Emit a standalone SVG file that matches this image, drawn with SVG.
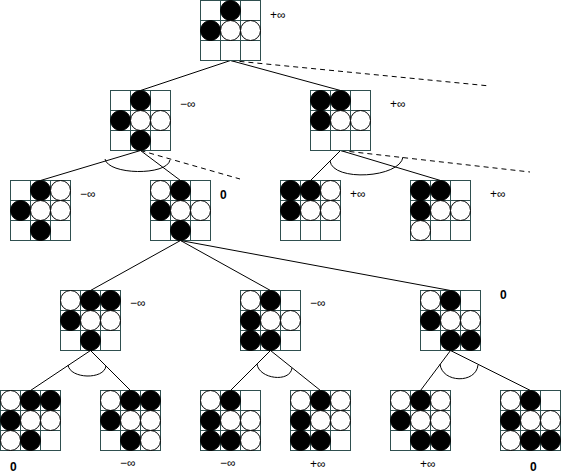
<svg xmlns="http://www.w3.org/2000/svg" xmlns:xlink="http://www.w3.org/1999/xlink" width="561" height="475" viewBox="0 0 561 475">
<style>
.gl{stroke:#2F4F4F;stroke-width:1;fill:none}
.b{fill:#000;stroke:#000;stroke-width:1}
.w{fill:#fff;stroke:#000;stroke-width:1}
.e{stroke:#000;stroke-width:1;fill:none}
.d{stroke:#000;stroke-width:1;fill:none;stroke-dasharray:5,4}
.t{font-family:"Liberation Sans",Arial,sans-serif;font-size:12px;fill:#000}
.z{font-family:"Liberation Sans",Arial,sans-serif;font-size:12px;font-weight:bold;fill:#000}
</style>
<defs>
<g id="grid">
<rect x="0.5" y="0.5" width="60" height="60" fill="#fff" stroke="#2F4F4F"/>
<path class="gl" d="M20.5,0.5V60.5M40.5,0.5V60.5M0.5,20.5H60.5M0.5,40.5H60.5"/>
</g>
</defs>
<rect width="561" height="475" fill="#fff"/>
<g id="connectors">
<line class="e" x1="230.5" y1="60.5" x2="140.5" y2="90.5"/>
<line class="e" x1="230.5" y1="60.5" x2="340.5" y2="90.5"/>
<line class="d" x1="230.5" y1="60.5" x2="490" y2="86"/>
<line class="e" x1="140.5" y1="150.5" x2="40.5" y2="180.5"/>
<line class="e" x1="140.5" y1="150.5" x2="180.5" y2="180.5"/>
<line class="d" x1="140.5" y1="150.5" x2="240" y2="179"/>
<path class="e" d="M105,159 C108,175 167,176 170,160"/>
<line class="e" x1="340.5" y1="150.5" x2="310.5" y2="180.5"/>
<line class="e" x1="340.5" y1="150.5" x2="440.5" y2="180.5"/>
<line class="d" x1="340.5" y1="150.5" x2="530" y2="172"/>
<path class="e" d="M330,161 C333,182 400,178 403,157"/>
<line class="e" x1="180.5" y1="240.5" x2="90.5" y2="290.5"/>
<line class="e" x1="180.5" y1="240.5" x2="270.5" y2="290.5"/>
<line class="e" x1="180.5" y1="240.5" x2="450.5" y2="290.5"/>
<line class="e" x1="90.5" y1="350.5" x2="30.5" y2="390.5"/>
<line class="e" x1="90.5" y1="350.5" x2="130.5" y2="390.5"/>
<path class="e" d="M68,365 C70,379 104,380 106,366"/>
<line class="e" x1="270.5" y1="350.5" x2="230.5" y2="390.5"/>
<line class="e" x1="270.5" y1="350.5" x2="320.5" y2="390.5"/>
<path class="e" d="M257,364 C259,379 290,383 292,368"/>
<line class="e" x1="450.5" y1="350.5" x2="420.5" y2="390.5"/>
<line class="e" x1="450.5" y1="350.5" x2="530.5" y2="390.5"/>
<path class="e" d="M440,364 C442,383 476,384 478,365"/>
</g>
<g id="n0">
<g transform="translate(200,0)"><use xlink:href="#grid"/>
<circle class="b" cx="30.5" cy="10.5" r="10"/>
<circle class="b" cx="10.5" cy="30.5" r="10"/><circle class="w" cx="30.5" cy="30.5" r="10"/><circle class="w" cx="50.5" cy="30.5" r="10"/>
</g><text class="t" x="270" y="19">+∞</text></g>
<g id="n1">
<g transform="translate(110,90)"><use xlink:href="#grid"/>
<circle class="b" cx="30.5" cy="10.5" r="10"/>
<circle class="b" cx="10.5" cy="30.5" r="10"/><circle class="w" cx="30.5" cy="30.5" r="10"/><circle class="w" cx="50.5" cy="30.5" r="10"/>
<circle class="b" cx="30.5" cy="50.5" r="10"/>
</g><text class="t" x="180" y="108">−∞</text></g>
<g id="n2">
<g transform="translate(310,90)"><use xlink:href="#grid"/>
<circle class="b" cx="10.5" cy="10.5" r="10"/><circle class="b" cx="30.5" cy="10.5" r="10"/>
<circle class="b" cx="10.5" cy="30.5" r="10"/><circle class="w" cx="30.5" cy="30.5" r="10"/><circle class="w" cx="50.5" cy="30.5" r="10"/>
</g><text class="t" x="390" y="108">+∞</text></g>
<g id="n3">
<g transform="translate(10,180)"><use xlink:href="#grid"/>
<circle class="b" cx="30.5" cy="10.5" r="10"/><circle class="w" cx="50.5" cy="10.5" r="10"/>
<circle class="b" cx="10.5" cy="30.5" r="10"/><circle class="w" cx="30.5" cy="30.5" r="10"/><circle class="w" cx="50.5" cy="30.5" r="10"/>
<circle class="b" cx="30.5" cy="50.5" r="10"/>
</g><text class="t" x="80" y="198">−∞</text></g>
<g id="n4">
<g transform="translate(150,180)"><use xlink:href="#grid"/>
<circle class="w" cx="10.5" cy="10.5" r="10"/><circle class="b" cx="30.5" cy="10.5" r="10"/>
<circle class="b" cx="10.5" cy="30.5" r="10"/><circle class="w" cx="30.5" cy="30.5" r="10"/><circle class="w" cx="50.5" cy="30.5" r="10"/>
<circle class="b" cx="30.5" cy="50.5" r="10"/>
</g><text class="z" x="220" y="199">0</text></g>
<g id="n5">
<g transform="translate(280,180)"><use xlink:href="#grid"/>
<circle class="b" cx="10.5" cy="10.5" r="10"/><circle class="b" cx="30.5" cy="10.5" r="10"/><circle class="w" cx="50.5" cy="10.5" r="10"/>
<circle class="b" cx="10.5" cy="30.5" r="10"/><circle class="w" cx="30.5" cy="30.5" r="10"/><circle class="w" cx="50.5" cy="30.5" r="10"/>
</g><text class="t" x="350" y="198">+∞</text></g>
<g id="n6">
<g transform="translate(410,180)"><use xlink:href="#grid"/>
<circle class="b" cx="10.5" cy="10.5" r="10"/><circle class="b" cx="30.5" cy="10.5" r="10"/>
<circle class="b" cx="10.5" cy="30.5" r="10"/><circle class="w" cx="30.5" cy="30.5" r="10"/><circle class="w" cx="50.5" cy="30.5" r="10"/>
<circle class="w" cx="10.5" cy="50.5" r="10"/>
</g><text class="t" x="490" y="198">+∞</text></g>
<g id="n7">
<g transform="translate(60,290)"><use xlink:href="#grid"/>
<circle class="w" cx="10.5" cy="10.5" r="10"/><circle class="b" cx="30.5" cy="10.5" r="10"/><circle class="b" cx="50.5" cy="10.5" r="10"/>
<circle class="b" cx="10.5" cy="30.5" r="10"/><circle class="w" cx="30.5" cy="30.5" r="10"/><circle class="w" cx="50.5" cy="30.5" r="10"/>
<circle class="b" cx="30.5" cy="50.5" r="10"/>
</g><text class="t" x="130" y="307">−∞</text></g>
<g id="n8">
<g transform="translate(240,290)"><use xlink:href="#grid"/>
<circle class="w" cx="10.5" cy="10.5" r="10"/><circle class="b" cx="30.5" cy="10.5" r="10"/>
<circle class="b" cx="10.5" cy="30.5" r="10"/><circle class="w" cx="30.5" cy="30.5" r="10"/><circle class="w" cx="50.5" cy="30.5" r="10"/>
<circle class="b" cx="10.5" cy="50.5" r="10"/><circle class="b" cx="30.5" cy="50.5" r="10"/>
</g><text class="t" x="310" y="307">−∞</text></g>
<g id="n9">
<g transform="translate(420,290)"><use xlink:href="#grid"/>
<circle class="w" cx="10.5" cy="10.5" r="10"/><circle class="b" cx="30.5" cy="10.5" r="10"/>
<circle class="b" cx="10.5" cy="30.5" r="10"/><circle class="w" cx="30.5" cy="30.5" r="10"/><circle class="w" cx="50.5" cy="30.5" r="10"/>
<circle class="b" cx="30.5" cy="50.5" r="10"/><circle class="b" cx="50.5" cy="50.5" r="10"/>
</g><text class="z" x="500" y="299">0</text></g>
<g id="n10">
<g transform="translate(0,390)"><use xlink:href="#grid"/>
<circle class="w" cx="10.5" cy="10.5" r="10"/><circle class="b" cx="30.5" cy="10.5" r="10"/><circle class="b" cx="50.5" cy="10.5" r="10"/>
<circle class="b" cx="10.5" cy="30.5" r="10"/><circle class="w" cx="30.5" cy="30.5" r="10"/><circle class="w" cx="50.5" cy="30.5" r="10"/>
<circle class="w" cx="10.5" cy="50.5" r="10"/><circle class="b" cx="30.5" cy="50.5" r="10"/>
</g><text class="z" x="10" y="471">0</text></g>
<g id="n11">
<g transform="translate(100,390)"><use xlink:href="#grid"/>
<circle class="w" cx="10.5" cy="10.5" r="10"/><circle class="b" cx="30.5" cy="10.5" r="10"/><circle class="b" cx="50.5" cy="10.5" r="10"/>
<circle class="b" cx="10.5" cy="30.5" r="10"/><circle class="w" cx="30.5" cy="30.5" r="10"/><circle class="w" cx="50.5" cy="30.5" r="10"/>
<circle class="b" cx="30.5" cy="50.5" r="10"/><circle class="w" cx="50.5" cy="50.5" r="10"/>
</g><text class="t" x="120" y="467">−∞</text></g>
<g id="n12">
<g transform="translate(200,390)"><use xlink:href="#grid"/>
<circle class="w" cx="10.5" cy="10.5" r="10"/><circle class="b" cx="30.5" cy="10.5" r="10"/>
<circle class="b" cx="10.5" cy="30.5" r="10"/><circle class="w" cx="30.5" cy="30.5" r="10"/><circle class="w" cx="50.5" cy="30.5" r="10"/>
<circle class="b" cx="10.5" cy="50.5" r="10"/><circle class="b" cx="30.5" cy="50.5" r="10"/><circle class="w" cx="50.5" cy="50.5" r="10"/>
</g><text class="t" x="220" y="467">−∞</text></g>
<g id="n13">
<g transform="translate(290,390)"><use xlink:href="#grid"/>
<circle class="w" cx="10.5" cy="10.5" r="10"/><circle class="b" cx="30.5" cy="10.5" r="10"/><circle class="w" cx="50.5" cy="10.5" r="10"/>
<circle class="b" cx="10.5" cy="30.5" r="10"/><circle class="w" cx="30.5" cy="30.5" r="10"/><circle class="w" cx="50.5" cy="30.5" r="10"/>
<circle class="b" cx="10.5" cy="50.5" r="10"/><circle class="b" cx="30.5" cy="50.5" r="10"/>
</g><text class="t" x="310" y="468">+∞</text></g>
<g id="n14">
<g transform="translate(390,390)"><use xlink:href="#grid"/>
<circle class="w" cx="10.5" cy="10.5" r="10"/><circle class="b" cx="30.5" cy="10.5" r="10"/><circle class="w" cx="50.5" cy="10.5" r="10"/>
<circle class="b" cx="10.5" cy="30.5" r="10"/><circle class="w" cx="30.5" cy="30.5" r="10"/><circle class="w" cx="50.5" cy="30.5" r="10"/>
<circle class="b" cx="30.5" cy="50.5" r="10"/><circle class="b" cx="50.5" cy="50.5" r="10"/>
</g><text class="t" x="420" y="468">+∞</text></g>
<g id="n15">
<g transform="translate(500,390)"><use xlink:href="#grid"/>
<circle class="w" cx="10.5" cy="10.5" r="10"/><circle class="b" cx="30.5" cy="10.5" r="10"/>
<circle class="b" cx="10.5" cy="30.5" r="10"/><circle class="w" cx="30.5" cy="30.5" r="10"/><circle class="w" cx="50.5" cy="30.5" r="10"/>
<circle class="w" cx="10.5" cy="50.5" r="10"/><circle class="b" cx="30.5" cy="50.5" r="10"/><circle class="b" cx="50.5" cy="50.5" r="10"/>
</g><text class="z" x="530" y="471">0</text></g>
</svg>
